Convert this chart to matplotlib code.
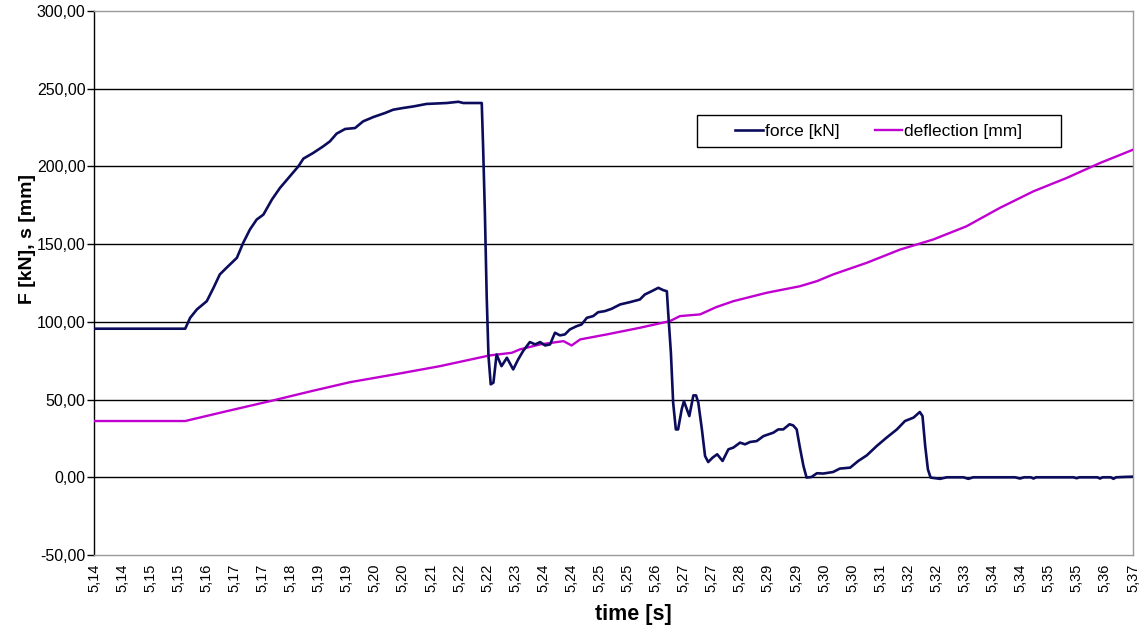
import matplotlib
matplotlib.use("Agg")
import matplotlib.pyplot as plt
from matplotlib.ticker import FixedLocator, FuncFormatter
from matplotlib.patches import Rectangle

plt.rcParams['font.family'] = ['Liberation Sans', 'DejaVu Sans']

# ---------------- data ----------------
force_t = [5.1355, 5.1558, 5.1569, 5.1584, 5.1606, 5.1621, 5.1635, 5.1650, 5.1673, 5.1687,
           5.1702, 5.1717, 5.1732, 5.1751, 5.1769, 5.1791, 5.1810, 5.1821, 5.1843, 5.1865,
           5.1880, 5.1895, 5.1914, 5.1936, 5.1954, 5.1977, 5.2003, 5.2021, 5.2043, 5.2066,
           5.2095, 5.2140, 5.2166, 5.2177, 5.2218, 5.2221, 5.2225, 5.2229, 5.2233, 5.2238,
           5.2244, 5.2251, 5.2262, 5.2274, 5.2288, 5.2299, 5.2310, 5.2325, 5.2337, 5.2348,
           5.2359, 5.2370, 5.2381, 5.2392, 5.2403, 5.2414, 5.2429, 5.2440, 5.2452, 5.2466,
           5.2477, 5.2492, 5.2507, 5.2526, 5.2548, 5.2570, 5.2581, 5.2596, 5.2611, 5.2622,
           5.2630, 5.2633, 5.2639, 5.2644, 5.2650, 5.2655, 5.2663, 5.2668, 5.2680, 5.2689,
           5.2695, 5.2700, 5.2708, 5.2715, 5.2722, 5.2732, 5.2742, 5.2754, 5.2767, 5.2778,
           5.2793, 5.2804, 5.2815, 5.2830, 5.2845, 5.2856, 5.2867, 5.2878, 5.2889, 5.2903,
           5.2911, 5.2919, 5.2926, 5.2934, 5.2941, 5.2952, 5.2964, 5.2978, 5.3000, 5.3015,
           5.3038, 5.3056, 5.3075, 5.3097, 5.3119, 5.3142, 5.3160, 5.3179, 5.3193, 5.3199,
           5.3205, 5.3211, 5.3217, 5.3238, 5.3253, 5.3290, 5.3301, 5.3312, 5.3405, 5.3416,
           5.3425, 5.3440, 5.3446, 5.3452, 5.3535, 5.3542, 5.3548, 5.3588, 5.3594, 5.3600,
           5.3618, 5.3624, 5.3630, 5.3653, 5.3668]
force_kN = [95.6, 95.6, 102.6, 108.0, 113.3, 121.9, 130.5, 134.8, 141.2, 150.8,
            159.4, 165.8, 169.0, 178.7, 186.2, 193.6, 200.1, 205.0, 208.7, 212.9,
            216.1, 221.1, 224.1, 224.7, 229.0, 231.8, 234.4, 236.5, 237.6, 238.6,
            240.2, 240.8, 241.6, 240.8, 240.8, 212.9, 170.1, 116.5, 78.0, 59.8,
            60.9, 79.0, 71.5, 76.9, 69.4, 75.8, 81.2, 87.0, 85.5, 87.0,
            84.8, 85.5, 93.0, 91.3, 91.9, 95.1, 97.2, 98.3, 102.6, 103.7,
            106.2, 106.9, 108.4, 111.2, 112.7, 114.4, 117.6, 119.7, 121.9, 120.4,
            119.7, 105.8, 80.1, 48.0, 30.8, 30.8, 43.7, 49.0, 39.4, 52.7,
            52.7, 48.0, 30.8, 13.7, 9.8, 12.7, 14.8, 10.5, 18.0, 19.1,
            22.3, 21.2, 22.7, 23.3, 26.5, 27.6, 28.7, 30.8, 30.8, 34.1,
            33.4, 30.8, 19.3, 7.3, -0.2, 0.2, 2.6, 2.4, 3.4, 5.6,
            6.2, 10.5, 14.1, 20.1, 25.5, 30.8, 36.2, 38.4, 42.0, 39.4,
            20.1, 5.1, -0.2, -1.0, 0.0, 0.0, -1.0, 0.0, 0.0, -0.8,
            0.0, 0.0, -0.8, 0.0, 0.0, -0.6, 0.0, 0.0, -0.8, 0.0,
            0.0, -1.0, 0.0, 0.3, 0.4]

defl_t = [5.1355, 5.1558, 5.1650, 5.1747, 5.1840, 5.1925, 5.2030, 5.2125, 5.2229, 5.2236,
          5.2285, 5.2303, 5.2348, 5.2400, 5.2418, 5.2437, 5.2496, 5.2570, 5.2637, 5.2659,
          5.2704, 5.2740, 5.2778, 5.2852, 5.2926, 5.2964, 5.3000, 5.3075, 5.3149, 5.3223,
          5.3297, 5.3371, 5.3446, 5.3520, 5.3594, 5.3668]
defl_mm = [36.2, 36.2, 42.5, 49.0, 55.5, 61.2, 66.5, 71.5, 78.0, 78.4,
           80.1, 82.3, 85.5, 87.6, 84.8, 88.7, 91.9, 96.2, 100.5, 103.7,
           104.8, 109.5, 113.3, 118.7, 122.9, 126.2, 130.5, 138.0, 146.5, 153.0,
           161.5, 173.3, 184.0, 192.6, 202.2, 210.8]

tick_labels = ['5,14', '5,14', '5,15', '5,15', '5,16', '5,17', '5,17', '5,18', '5,19', '5,19',
               '5,20', '5,20', '5,21', '5,22', '5,22', '5,23', '5,24', '5,24', '5,25', '5,25',
               '5,26', '5,27', '5,27', '5,28', '5,29', '5,29', '5,30', '5,30', '5,31', '5,32',
               '5,32', '5,33', '5,34', '5,34', '5,35', '5,35', '5,36', '5,37']
t_first = 5.1355
t_step = 0.00625
y_ticks = [-50, 0, 50, 100, 150, 200, 250, 300]

# ---------------- figure ----------------
fig = plt.figure(figsize=(11.47, 6.33), dpi=100)
ax = fig.add_axes([94 / 1147, 1 - 555 / 633, (1133 - 94) / 1147, (555 - 11) / 633])

x_ticks = [t_first + i * t_step for i in range(len(tick_labels))]
ax.set_xlim(x_ticks[0], x_ticks[-1])
ax.set_ylim(-50, 300)

for yv in y_ticks[1:-1]:
    ax.axhline(yv, color='black', lw=1.0, zorder=1)

ax.plot(defl_t, defl_mm, color='#c000d0', lw=1.7, label='deflection [mm]', zorder=3)
ax.plot(force_t, force_kN, color='#0c0c5c', lw=1.9, label='force [kN]', zorder=4)

ax.xaxis.set_major_locator(FixedLocator(x_ticks))
ax.set_xticklabels(tick_labels, rotation=90, fontsize=10.5)
ax.tick_params(axis='x', length=0, pad=6)

ax.yaxis.set_major_locator(FixedLocator(y_ticks))
ax.yaxis.set_major_formatter(FuncFormatter(lambda v, p: f"{v:.2f}".replace('.', ',')))
ax.tick_params(axis='y', direction='out', length=5, width=1, labelsize=11.5, pad=1)

for side in ['top', 'right', 'bottom']:
    ax.spines[side].set_color('#999999')
    ax.spines[side].set_linewidth(1.0)
ax.spines['left'].set_color('black')
ax.spines['left'].set_linewidth(1.0)

ax.set_ylabel('F [kN], s [mm]', fontsize=14, fontweight='bold')
ax.yaxis.set_label_coords(-0.056, 0.58)
ax.set_xlabel('time [s]', fontsize=15.5, fontweight='bold')
ax.xaxis.set_label_coords(0.519, -0.090)

# legend box (Excel style: wide frame, centred entries)
ax.add_patch(Rectangle((0.5804, 0.75), 0.3503, 0.0588, transform=ax.transAxes,
                       facecolor='white', edgecolor='black', lw=1.0, zorder=5))
h, l = ax.get_legend_handles_labels()
leg = ax.legend([h[1], h[0]], [l[1], l[0]], ncol=2, loc='center',
                bbox_to_anchor=(0.7555, 0.7794), fontsize=12.5, frameon=False,
                handlelength=1.6, handletextpad=0.12, columnspacing=2.0,
                borderpad=0.2, borderaxespad=0)
leg.set_zorder(6)

fig.savefig('out.png', dpi=100, facecolor='white')
